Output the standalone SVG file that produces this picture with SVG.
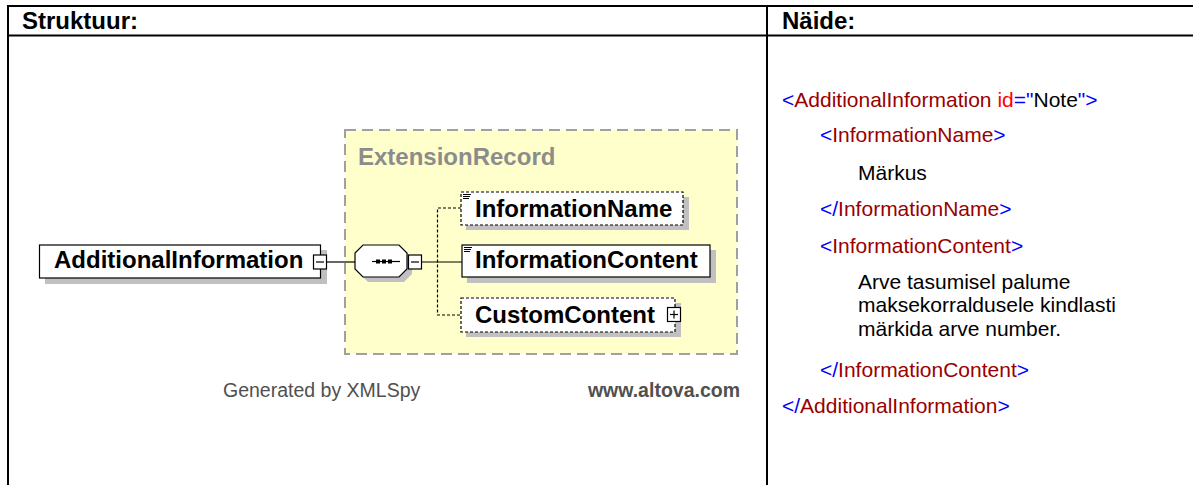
<svg xmlns="http://www.w3.org/2000/svg" width="1193" height="485" viewBox="0 0 1193 485">
<style>
  .hdr { font-family: "Liberation Sans", Arial, sans-serif; font-weight: bold; font-size: 24px; fill: #000; }
  .el { font-family: "Liberation Sans", Arial, sans-serif; font-weight: bold; font-size: 24px; fill: #000; }
  .ctype { font-family: "Liberation Sans", Arial, sans-serif; font-weight: bold; font-size: 24px; fill: #8c8c8c; }
  .foot { font-family: "Liberation Sans", Arial, sans-serif; font-size: 19.5px; fill: #505050; }
  .footb { font-family: "Liberation Sans", Arial, sans-serif; font-weight: bold; font-size: 19.5px; fill: #505050; }
  .code { font-family: "Liberation Sans", Arial, sans-serif; font-size: 21px; fill: #000; }
  .b { fill: #0000ff; }
  .n { fill: #990000; }
  .a { fill: #ff0000; }
  .shadow { fill: #c0c0c0; stroke: none; }
  .box { fill: #ffffff; stroke: #000; stroke-width: 1.2; }
  .dbox { fill: #ffffff; stroke: #000; stroke-width: 1.2; stroke-dasharray: 3 2; }
  .line { stroke: #000; stroke-width: 1.2; fill: none; }
  .dline { stroke: #000; stroke-width: 1.2; fill: none; stroke-dasharray: 3 2; }
  .icon { stroke: #000; stroke-width: 1; }
</style>

<rect x="0" y="0" width="1193" height="485" fill="#ffffff"/>

<g id="table">
  <rect x="7" y="5" width="1186" height="2" fill="#000"/>
  <rect x="7" y="34.5" width="1186" height="2" fill="#000"/>
  <rect x="7" y="5" width="2" height="480" fill="#000"/>
  <rect x="766" y="5" width="2" height="480" fill="#000"/>
  <text class="hdr" x="22" y="29">Struktuur:</text>
  <text class="hdr" x="782" y="29">Näide:</text>
</g>

<g id="ExtensionRecord">
  <rect x="345" y="130" width="392" height="224" fill="#ffffcc" stroke="#a0a0a0" stroke-width="2" stroke-dasharray="11 6"/>
  <text class="ctype" x="358" y="165">ExtensionRecord</text>
</g>

<g id="connectors">
  <line class="line" x1="327" y1="262" x2="355" y2="262"/>
  <line class="line" x1="422" y1="262" x2="462" y2="262"/>
  <polyline class="dline" points="461,208 437.5,208 437.5,315 461,315"/>
</g>

<g id="AdditionalInformation">
  <rect class="shadow" x="45" y="250" width="282" height="34"/>
  <rect class="box" x="39.5" y="245" width="281" height="33"/>
  <text class="el" x="54" y="268">AdditionalInformation</text>
  <rect class="box" x="313.5" y="255" width="13" height="14"/>
  <line class="line" x1="316" y1="262" x2="324" y2="262"/>
</g>

<g id="sequence">
  <polygon class="shadow" points="368,250 404,250 412,258 412,274 404,282 368,282 360,274 360,258"/>
  <polygon class="box" points="363,245 399,245 407,253 407,269 399,277 363,277 355,269 355,253"/>
  <line class="line" x1="372" y1="261.5" x2="400" y2="261.5"/>
  <rect x="376" y="259.5" width="4" height="4" fill="#000"/>
  <rect x="382" y="259.5" width="4" height="4" fill="#000"/>
  <rect x="388" y="259.5" width="4" height="4" fill="#000"/>
  <rect class="box" x="408.5" y="255" width="13" height="14"/>
  <line class="line" x1="411" y1="262" x2="419" y2="262"/>
</g>

<g id="InformationName">
  <rect class="shadow" x="466" y="197" width="223" height="33"/>
  <rect class="dbox" x="461" y="192" width="222" height="33"/>
  <line class="icon" x1="463" y1="194.5" x2="471" y2="194.5"/>
  <line class="icon" x1="463" y1="196.5" x2="470" y2="196.5"/>
  <line class="icon" x1="463" y1="198.5" x2="469" y2="198.5"/>
  <text class="el" x="475" y="217">InformationName</text>
</g>

<g id="InformationContent">
  <rect class="shadow" x="467" y="250" width="249" height="33"/>
  <rect class="box" x="462" y="245" width="248" height="32"/>
  <line class="icon" x1="464" y1="247.5" x2="472" y2="247.5"/>
  <line class="icon" x1="464" y1="249.5" x2="471" y2="249.5"/>
  <line class="icon" x1="464" y1="251.5" x2="470" y2="251.5"/>
  <text class="el" x="475" y="268">InformationContent</text>
</g>

<g id="CustomContent">
  <rect class="shadow" x="466" y="303" width="215" height="34"/>
  <rect class="dbox" x="461" y="298" width="214" height="34"/>
  <text class="el" x="475" y="323">CustomContent</text>
  <rect class="box" x="667.5" y="307.5" width="13" height="14"/>
  <line class="line" x1="670" y1="314.5" x2="678" y2="314.5"/>
  <line class="line" x1="674" y1="310.5" x2="674" y2="318.5"/>
</g>

<g id="footer">
  <text class="foot" x="223" y="397">Generated by XMLSpy</text>
  <text class="footb" x="740" y="397" text-anchor="end">www.altova.com</text>
</g>

<g id="example">
  <text class="code" x="782" y="107"><tspan class="b">&lt;</tspan><tspan class="n">AdditionalInformation</tspan><tspan class="a"> id</tspan><tspan class="b">="</tspan><tspan>Note</tspan><tspan class="b">"&gt;</tspan></text>
  <text class="code" x="820" y="142"><tspan class="b">&lt;</tspan><tspan class="n">InformationName</tspan><tspan class="b">&gt;</tspan></text>
  <text class="code" x="858" y="180">Märkus</text>
  <text class="code" x="820" y="216"><tspan class="b">&lt;/</tspan><tspan class="n">InformationName</tspan><tspan class="b">&gt;</tspan></text>
  <text class="code" x="820" y="253"><tspan class="b">&lt;</tspan><tspan class="n">InformationContent</tspan><tspan class="b">&gt;</tspan></text>
  <text class="code" x="858" y="289">Arve tasumisel palume</text>
  <text class="code" x="858" y="312">maksekorraldusele kindlasti</text>
  <text class="code" x="858" y="336">märkida arve number.</text>
  <text class="code" x="820" y="377"><tspan class="b">&lt;/</tspan><tspan class="n">InformationContent</tspan><tspan class="b">&gt;</tspan></text>
  <text class="code" x="782" y="413"><tspan class="b">&lt;/</tspan><tspan class="n">AdditionalInformation</tspan><tspan class="b">&gt;</tspan></text>
</g>
</svg>
